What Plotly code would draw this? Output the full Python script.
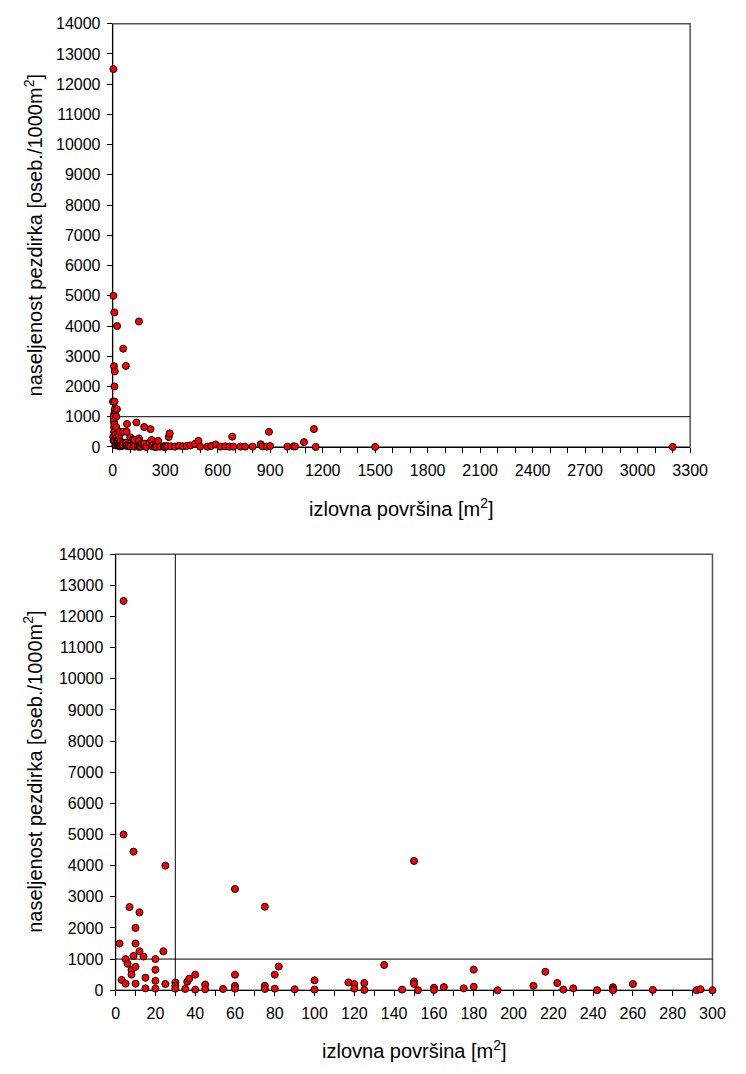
import plotly.graph_objects as go

# izlovna površina [m2] and naseljenost pezdirka [oseb./1000m2]
area_small = [4, 4, 9, 25, 7, 12, 60, 75, 150,
              10, 2, 10, 12, 9, 14, 24, 5, 20, 6, 8, 10, 8, 20, 3, 5, 10, 15, 15,
              20, 20, 25, 30, 30, 30, 35, 36, 37, 40, 40, 45, 45, 54, 60, 60, 60,
              75, 75, 80, 80, 82, 90, 100, 100, 117, 120, 120, 125, 125, 135, 144,
              150, 150, 152, 160, 160, 165, 175, 180, 180, 192, 210, 216, 222, 225,
              230, 242, 250, 250, 250, 260, 270, 292, 294, 300]
dens_small = [12500, 5000, 4450, 4000, 2670, 2500, 3250, 2680, 4150,
              2000, 1500, 1500, 1250, 1100, 1080, 1250, 1000, 1000, 850, 650, 750, 500, 655, 330, 210, 210, 400, 60,
              300, 50, 200, 250, 140, 50, 40, 270, 370, 500, 20, 180, 30, 40, 500, 140, 50,
              140, 40, 500, 50, 760, 30, 320, 20, 250, 200, 50, 230, 10, 810, 20,
              280, 200, 0, 80, 10, 100, 60, 660, 110, 0, 140, 590, 230, 20,
              60, 0, 95, 30, 0, 200, 10, 0, 30, 0]

area_large = [311, 320, 326, 333, 356, 378, 400, 422, 444, 470, 490, 500, 541, 563,
              589, 615, 643, 667, 683, 689, 730, 757, 800, 846, 856, 881, 893, 900,
              998, 1033, 1042, 1093, 1150, 1160, 1500, 3200]
dens_large = [30, 330, 450, 20, 10, 40, 20, 30, 50, 100, 200, 10, 10, 30,
              80, 10, 20, 10, 340, 10, 10, 10, 10, 90, 20, 10, 500, 30,
              10, 20, 15, 160, 590, 0, 0, 0]

area = area_small + area_large
dens = dens_small + dens_large

threshold_dens = 1000
threshold_area = 30

FONT = "Liberation Sans, Arial, sans-serif"
W, H = 746, 1074

marker = dict(color="#FF0000", size=7, line=dict(color="#000000", width=1))

fig = go.Figure()
fig.add_trace(go.Scatter(x=area, y=dens, mode="markers", marker=marker,
                         cliponaxis=False, xaxis="x", yaxis="y", showlegend=False))
fig.add_trace(go.Scatter(x=area_small, y=dens_small, mode="markers", marker=marker,
                         cliponaxis=False, xaxis="x2", yaxis="y2", showlegend=False))

axis_common = dict(
    showgrid=False, zeroline=False, showline=True, linecolor="#000000", linewidth=1,
    ticks="outside", ticklen=5, tickcolor="#000000", tickwidth=1, tickformat="d",
    tickfont=dict(family=FONT, size=16, color="#000000"), layer="below traces",
)

# pixel boxes of the two plot areas
top = dict(x0=112, x1=707, y0=16, y1=446)
bot = dict(x0=115, x1=730, y0=555, y1=998)

def xdom(b):
    return [b["x0"] / W, b["x1"] / W]

def ydom(b):
    return [1 - b["y1"] / H, 1 - b["y0"] / H]

fig.update_layout(
    width=W, height=H, margin=dict(l=0, r=0, t=0, b=0),
    paper_bgcolor="white", plot_bgcolor="white",
    xaxis=dict(domain=xdom(top), range=[0, 3300], dtick=300, anchor="y",
               minor=dict(dtick=100, ticks="outside", ticklen=5, tickcolor="#000000"),
               ticklabelstandoff=4, **axis_common),
    yaxis=dict(domain=ydom(top), range=[0, 14000], dtick=1000, anchor="x",
               ticklabelstandoff=3, **axis_common),
    xaxis2=dict(domain=xdom(bot), range=[0, 300], dtick=20, anchor="y2",
                minor=dict(dtick=10, ticks="outside", ticklen=5, tickcolor="#000000"),
                ticklabelstandoff=4, **axis_common),
    yaxis2=dict(domain=ydom(bot), range=[0, 14000], dtick=1000, anchor="x2",
                ticklabelstandoff=3, **axis_common),
)

shapes = []
for xr, yr in (("x", "y"), ("x2", "y2")):
    shapes.append(dict(type="rect", xref=f"{xr} domain", yref=f"{yr} domain",
                       x0=0, x1=1, y0=0, y1=1, line=dict(color="#555555", width=1.5),
                       layer="below"))
    shapes.append(dict(type="line", xref=f"{xr} domain", yref=yr, x0=0, x1=1,
                       y0=threshold_dens, y1=threshold_dens,
                       line=dict(color="#000000", width=1), layer="below"))
shapes.append(dict(type="line", xref="x2", yref="y2 domain", x0=threshold_area,
                   x1=threshold_area, y0=0, y1=1,
                   line=dict(color="#000000", width=1), layer="below"))
fig.update_layout(shapes=shapes)

title_font = dict(family=FONT, size=20, color="#000000")
ytitle = "naseljenost pezdirka [oseb./1000m<sup>2</sup>]"
xtitle = "izlovna površina [m<sup>2</sup>]"
annotations = [
    dict(text=ytitle, x=30 / W, y=1 - 231 / H, textangle=-90),
    dict(text=ytitle, x=30 / W, y=1 - 776 / H, textangle=-90),
    dict(text=xtitle, x=(top["x0"] + top["x1"]) / 2 / W, y=1 - 508 / H),
    dict(text=xtitle, x=(bot["x0"] + bot["x1"]) / 2 / W, y=1 - 1058 / H),
]
for a in annotations:
    a.update(xref="paper", yref="paper", showarrow=False, font=title_font,
             xanchor="center", yanchor="middle")
fig.update_layout(annotations=annotations)

fig.write_html("out.html")
